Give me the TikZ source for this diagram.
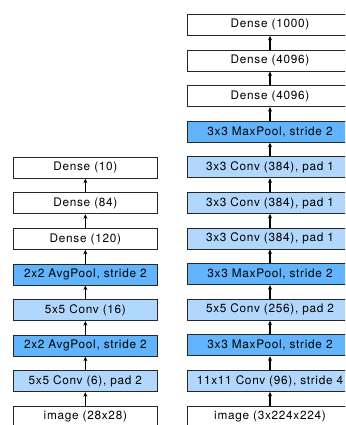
\documentclass[tikz,border=0pt]{standalone}
\usepackage{fontspec}
\setmainfont{TeX Gyre Heros}[LetterSpace=6]
\usetikzlibrary{arrows.meta}
\definecolor{convblue}{RGB}{178,215,252}
\definecolor{poolblue}{RGB}{98,181,252}
\tikzset{
  layer/.style={draw=black!85, line width=0.9pt, minimum height=21pt, inner sep=0pt, font=\fontsize{11.8}{13}\selectfont, anchor=north, fill=white},
  lenet/.style={layer, minimum width=144.7pt},
  alex/.style={layer, minimum width=166pt},
  conv/.style={fill=convblue},
  pool/.style={fill=poolblue},
  flow/.style={-{Stealth[length=4.5pt,width=4pt]}, line width=1.1pt, black},
}
\begin{document}
\begin{tikzpicture}[x=1pt,y=1pt]
\useasboundingbox (0,0) rectangle (345,-425);
\begin{scope}
\clip (0,0) rectangle (345,-425);
% LeNet column
\node[lenet] (l0) at (85.35,{-(156.8+0*35.6)}) {Dense (10)};
\node[lenet] (l1) at (85.35,{-(156.8+1*35.6)}) {Dense (84)};
\node[lenet] (l2) at (85.35,{-(156.8+2*35.6)}) {Dense (120)};
\node[lenet,pool] (l3) at (85.35,{-(156.8+3*35.6)}) {2x2 AvgPool, stride 2};
\node[lenet,conv] (l4) at (85.35,{-(156.8+4*35.6)}) {5x5 Conv (16)};
\node[lenet,pool] (l5) at (85.35,{-(156.8+5*35.6)}) {2x2 AvgPool, stride 2};
\node[lenet,conv] (l6) at (85.35,{-(156.8+6*35.6)}) {5x5 Conv (6), pad 2};
\node[lenet] (l7) at (85.35,{-(156.8+7*35.6)}) {image (28x28)};
% AlexNet column
\node[alex] (a0) at (270,{-(14+0*35.6)}) {Dense (1000)};
\node[alex] (a1) at (270,{-(14+1*35.6)}) {Dense (4096)};
\node[alex] (a2) at (270,{-(14+2*35.6)}) {Dense (4096)};
\node[alex,pool] (a3) at (270,{-(14+3*35.6)}) {3x3 MaxPool, stride 2};
\node[alex,conv] (a4) at (270,{-(14+4*35.6)}) {3x3 Conv (384), pad 1};
\node[alex,conv] (a5) at (270,{-(14+5*35.6)}) {3x3 Conv (384), pad 1};
\node[alex,conv] (a6) at (270,{-(14+6*35.6)}) {3x3 Conv (384), pad 1};
\node[alex,pool] (a7) at (270,{-(14+7*35.6)}) {3x3 MaxPool, stride 2};
\node[alex,conv] (a8) at (270,{-(14+8*35.6)}) {5x5 Conv (256), pad 2};
\node[alex,pool] (a9) at (270,{-(14+9*35.6)}) {3x3 MaxPool, stride 2};
\node[alex,conv] (a10) at (270,{-(14+10*35.6)}) {11x11 Conv (96), stride 4};
\node[alex] (a11) at (270,{-(14+11*35.6)}) {image (3x224x224)};
\foreach \i [evaluate=\i as \j using int(\i-1)] in {1,...,7}
  \draw[flow] (l\i.north) -- (l\j.south);
\foreach \i [evaluate=\i as \j using int(\i-1)] in {1,...,11}
  \draw[flow] (a\i.north) -- (a\j.south);
\end{scope}
\end{tikzpicture}
\end{document}
